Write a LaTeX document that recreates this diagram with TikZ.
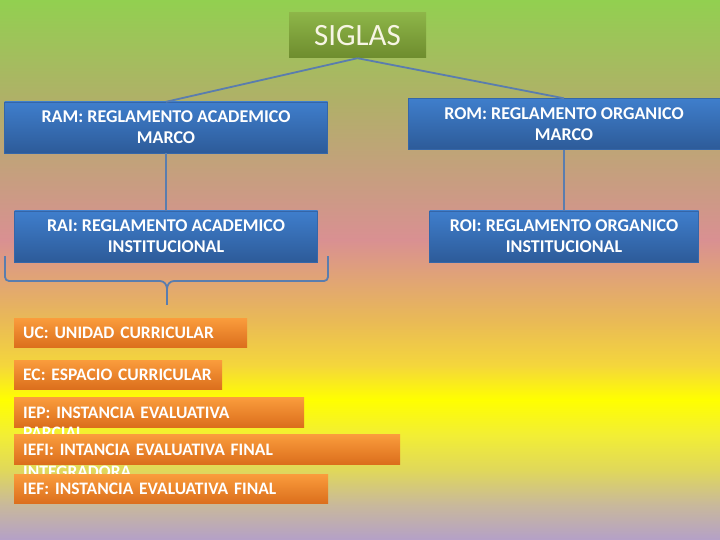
\documentclass[tikz,border=0pt]{standalone}
\usepackage{fontspec}
\setmainfont{Carlito}[UprightFont=*-Regular, BoldFont=*-Bold, Extension=.ttf]
\usepackage{tikz}
\usetikzlibrary{positioning, calc}
\usepackage{xcolor}
\definecolor{bgGreen}{HTML}{92D050}
\definecolor{bgOlive}{HTML}{B0B068}
\definecolor{bgPink}{HTML}{D99092}
\definecolor{bgAmber}{HTML}{E9B957}
\definecolor{bgGold}{HTML}{F4D63C}
\definecolor{bgYellow}{HTML}{FFFF00}
\definecolor{bgLemon}{HTML}{F2EE35}
\definecolor{bgSand}{HTML}{E0D85A}
\definecolor{bgTaupe}{HTML}{C8B89C}
\definecolor{bgLavender}{HTML}{B4A0C8}
\definecolor{blueTop}{HTML}{3F7ECC}
\definecolor{blueBottom}{HTML}{2D5B99}
\definecolor{blueEdge}{HTML}{3566A8}
\definecolor{greenTop}{HTML}{8DB548}
\definecolor{greenBottom}{HTML}{6E8C2E}
\definecolor{orangeTop}{HTML}{FA9C3C}
\definecolor{orangeBottom}{HTML}{DB6E1C}
\definecolor{linkBlue}{HTML}{5A7DAE}
\definecolor{creamWhite}{HTML}{F7F5E4}
% page runs green -> pink -> yellow -> lavender (25bp..75bp is the used part)
\pgfdeclareverticalshading{pagefade}{100bp}{%
  color(0bp)=(bgLavender); color(25bp)=(bgLavender); color(28.2bp)=(bgTaupe);
  color(31.5bp)=(bgSand); color(34.7bp)=(bgLemon); color(38bp)=(bgYellow);
  color(41.2bp)=(bgGold); color(45.4bp)=(bgAmber); color(52.8bp)=(bgPink);
  color(65.7bp)=(bgOlive); color(75bp)=(bgGreen); color(100bp)=(bgGreen)}
\frenchspacing

\begin{document}
\begin{tikzpicture}[x=1pt, y=-1pt,
    titlebox/.style={rectangle, top color=greenTop, bottom color=greenBottom, minimum width=137pt, minimum height=45pt, text=creamWhite, font=\fontsize{31}{34}\selectfont},
    bluebox/.style={rectangle, top color=blueTop, bottom color=blueBottom, draw=blueEdge, line width=0.4pt, minimum height=51pt, align=center, text=white, font=\bfseries\fontsize{18}{21}\selectfont},
    orangebox/.style={rectangle, top color=orangeTop, bottom color=orangeBottom, minimum height=29.5pt, inner xsep=9pt, inner ysep=0pt, align=left, anchor=north west, text=white, font=\bfseries\fontsize{17.5}{21}\selectfont},
    spill/.style={inner sep=0pt, anchor=base west, text=white, font=\bfseries\fontsize{17.5}{21}\selectfont},
    link/.style={linkBlue, line width=1.8pt}]
    \useasboundingbox (0,0) rectangle (720,540);
    \shade[shading=pagefade] (0,0) rectangle (720,540);

    % top of the tree
    \node[titlebox] (siglas) at (357.5,35.5) {SIGLAS};
    \node[bluebox, minimum width=323pt] (ram) at (166,127.5) {RAM: REGLAMENTO ACADEMICO\\MARCO};
    \node[bluebox, minimum width=312pt] (rom) at (564,124) {ROM: REGLAMENTO ORGANICO\\MARCO};
    \node[bluebox, minimum width=303pt] (rai) at (166,236.5) {RAI: REGLAMENTO ACADEMICO\\INSTITUCIONAL};
    \node[bluebox, minimum width=269pt] (roi) at (564,236.5) {ROI: REGLAMENTO ORGANICO\\INSTITUCIONAL};

    \draw[link] (siglas.south) -- (ram.north);
    \draw[link] (siglas.south) -- (rom.north);
    \draw[link] (ram.south) -- (rai.north);
    \draw[link] (rom.south) -- (roi.north);

    % brace under RAI
    \coordinate (braceL) at (5,256);
    \coordinate (braceR) at (328,256);
    \coordinate (braceMid) at (167,289);
    \coordinate (braceTip) at (167,305);
    \draw[link, rounded corners=4pt] (braceL) -- (5,281) -- (160,281);
    \draw[link, rounded corners=4pt] (braceR) -- (328,281) -- (174,281);
    \draw[link] (160,281) to[out=0, in=90] (braceMid) to[out=90, in=180] (174,281);
    \draw[link] (braceMid) -- (braceTip);

    % list of abbreviations
    \node[orangebox, text width=215pt] (uc) at (14,318) {UC: UNIDAD CURRICULAR};
    \node[orangebox, text width=190pt] (ec) at (14,360) {EC: ESPACIO CURRICULAR};
    \node[orangebox, text width=272pt] (iep) at (14,397.5) {IEP: INSTANCIA EVALUATIVA};
    \node[spill] (iepmore) at ($(iep.base west)+(9,20)$) {PARCIAL};
    \node[orangebox, text width=368pt] (iefi) at (14,434.5) {IEFI: INTANCIA EVALUATIVA FINAL};
    \node[spill] (iefimore) at ($(iefi.base west)+(9,22)$) {INTEGRADORA.};
    \node[orangebox, text width=296pt] (ief) at (14,474) {IEF: INSTANCIA EVALUATIVA FINAL};
\end{tikzpicture}
\end{document}
